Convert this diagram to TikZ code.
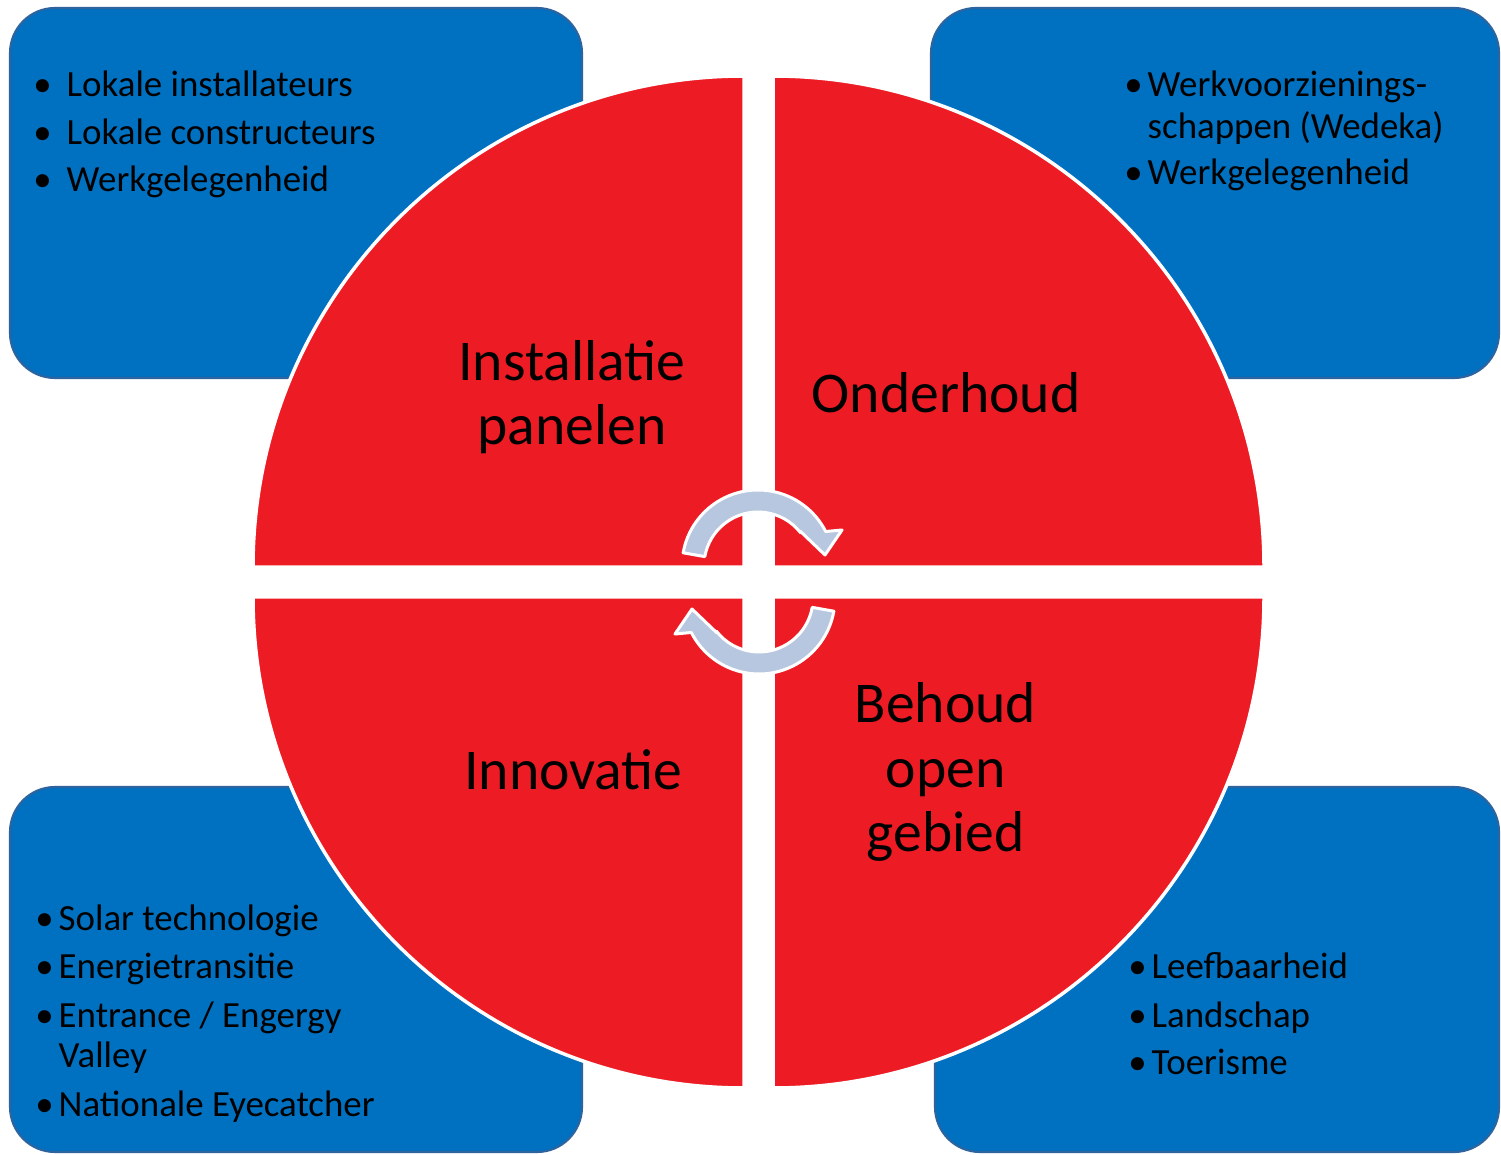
\documentclass[tikz,border=0pt]{standalone}
\usepackage{fontspec}
\setmainfont{Carlito}
\definecolor{qred}{RGB}{237,28,36}
\definecolor{qblue}{RGB}{0,112,192}
\definecolor{qedge}{RGB}{45,100,160}
\definecolor{qarrow}{RGB}{184,199,224}
\tikzset{
 infobox/.style={fill=qblue, draw=qedge, line width=0.6pt, rounded corners=0.45cm},
 quad/.style={fill=qred, draw=white, line width=0.035cm},
 cyc/.style={fill=qarrow, draw=white, line width=0.03cm, line join=round},
 biglabel/.style={anchor=base, inner sep=0pt, font=\fontsize{16.4}{19}\selectfont},
 item/.style={anchor=base west, inner sep=0pt, font=\fontsize{10.5}{12}\selectfont},
}
\newcommand\bul[1]{\llap{•\hspace{#1}}}
\begin{document}
\begin{tikzpicture}
\useasboundingbox (0,0) rectangle (15.01,11.54);
\fill[white] (0,0) rectangle (15.01,11.54);
% info boxes
\path[infobox] (0.10,7.76) rectangle (5.82,11.46);
\path[infobox] (9.31,7.76) rectangle (14.99,11.46);
\path[infobox] (0.10,0.02) rectangle (5.82,3.67);
\path[infobox] (9.35,0.02) rectangle (14.99,3.67);
% quadrants
\path[quad] (7.44,5.87) -- (2.53,5.87) arc[start angle=180,end angle=90,radius=4.91] -- cycle;
\path[quad] (7.73,5.87) -- (7.73,10.78) arc[start angle=90,end angle=0,radius=4.91] -- cycle;
\path[quad] (7.44,5.57) -- (2.53,5.57) arc[start angle=180,end angle=270,radius=4.91] -- cycle;
\path[quad] (7.73,5.57) -- (12.64,5.57) arc[start angle=0,end angle=-90,radius=4.91] -- cycle;
% cycle arrows
\begin{scope}[shift={(7.58,5.88)}]
\path[cyc] (170:0.76) arc[start angle=170,end angle=27,radius=0.76] -- (0.84,0.36) -- (0.67,0.11) -- (0.42,0.35) -- (38:0.54) arc[start angle=38,end angle=170,radius=0.54] -- cycle;
\end{scope}
\begin{scope}[shift={(7.59,5.56)}, rotate=180]
\path[cyc] (170:0.76) arc[start angle=170,end angle=27,radius=0.76] -- (0.84,0.36) -- (0.67,0.11) -- (0.42,0.35) -- (38:0.54) arc[start angle=38,end angle=170,radius=0.54] -- cycle;
\end{scope}
% big labels
\node[biglabel] (l1a) at (5.72,7.73) {Installatie};
\node[biglabel] (l1b) at (5.72,7.09) {panelen};
\node[biglabel] (l2) at (9.46,7.41) {Onderhoud};
\node[biglabel] (l3) at (5.735,3.65) {Innovatie};
\node[biglabel] (l4a) at (9.455,4.32) {Behoud};
\node[biglabel] (l4b) at (9.455,3.67) {open};
\node[biglabel] (l4c) at (9.455,3.03) {gebied};
% top-left items
\node[item] (a1) at (0.66,10.57) {\bul{0.15cm}Lokale installateurs};
\node[item] (a2) at (0.66,10.09) {\bul{0.15cm}Lokale constructeurs};
\node[item] (a3) at (0.66,9.62) {\bul{0.15cm}Werkgelegenheid};
% top-right items
\node[item] (b1) at (11.47,10.57) {\bul{0.05cm}Werkvoorzienings-};
\node[item] (b2) at (11.47,10.15) {schappen (Wedeka)};
\node[item] (b3) at (11.47,9.69) {\bul{0.05cm}Werkgelegenheid};
% bottom-left items
\node[item] (c1) at (0.58,2.24) {\bul{0.05cm}Solar technologie};
\node[item] (c2) at (0.58,1.76) {\bul{0.05cm}Energietransitie};
\node[item] (c3) at (0.58,1.27) {\bul{0.05cm}Entrance / Engergy};
\node[item] (c4) at (0.58,0.87) {Valley};
\node[item] (c5) at (0.58,0.38) {\bul{0.05cm}Nationale Eyecatcher};
% bottom-right items
\node[item] (d1) at (11.51,1.76) {\bul{0.05cm}Leefbaarheid};
\node[item] (d2) at (11.51,1.27) {\bul{0.05cm}Landschap};
\node[item] (d3) at (11.51,0.80) {\bul{0.05cm}Toerisme};
\end{tikzpicture}
\end{document}
